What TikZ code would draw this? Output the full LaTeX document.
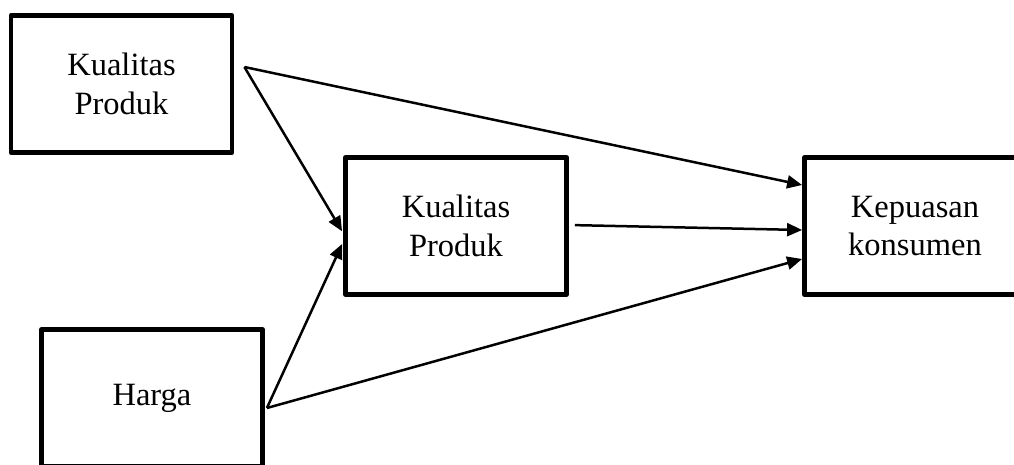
\documentclass[tikz,border=0pt]{standalone}
\usepackage{fontspec}
\setmainfont{Liberation Serif}
\usepackage{tikz}
\usetikzlibrary{positioning, arrows.meta}

\begin{document}
\begin{tikzpicture}[x=1pt,y=-1pt,on grid,
        box/.style={draw,line width=4.8pt,line join=round,minimum width=221pt,
          minimum height=137pt,align=center,font=\fontsize{32.5}{38.5}\selectfont},
        >={Triangle[length=15pt,width=13pt]},line width=2.5pt]
        \useasboundingbox (0,0) rectangle (1014,464);
        \node[box] (kp_1) at (121.5,84) {Kualitas\\Produk};
        \node[box] (kp_2) [below right=142pt and 334.5pt of kp_1] {Kualitas\\Produk};
        \node[box] (kk) [right=459pt of kp_2] {Kepuasan\\konsumen};
        \node[box] (hg) [below left=172pt and 304pt of kp_2] {Harga};
        \coordinate[above right=17pt and 10pt of kp_1.east] (kp_1out);
        \coordinate[below right=10pt and 2pt of hg.east] (hg_out);
        \path[->]
        (kp_1out) edge ([yshift=41pt]kk.west)
                  edge [shorten >=2pt] ([yshift=-7pt]kp_2.west)
        ([yshift=1pt]kp_2.east) edge [shorten <=6pt] ([yshift=-4pt]kk.west)
        (hg_out) edge [shorten >=2pt] ([yshift=-16pt]kp_2.west)
                 edge ([yshift=-33pt]kk.west);
      \end{tikzpicture}
\end{document}
